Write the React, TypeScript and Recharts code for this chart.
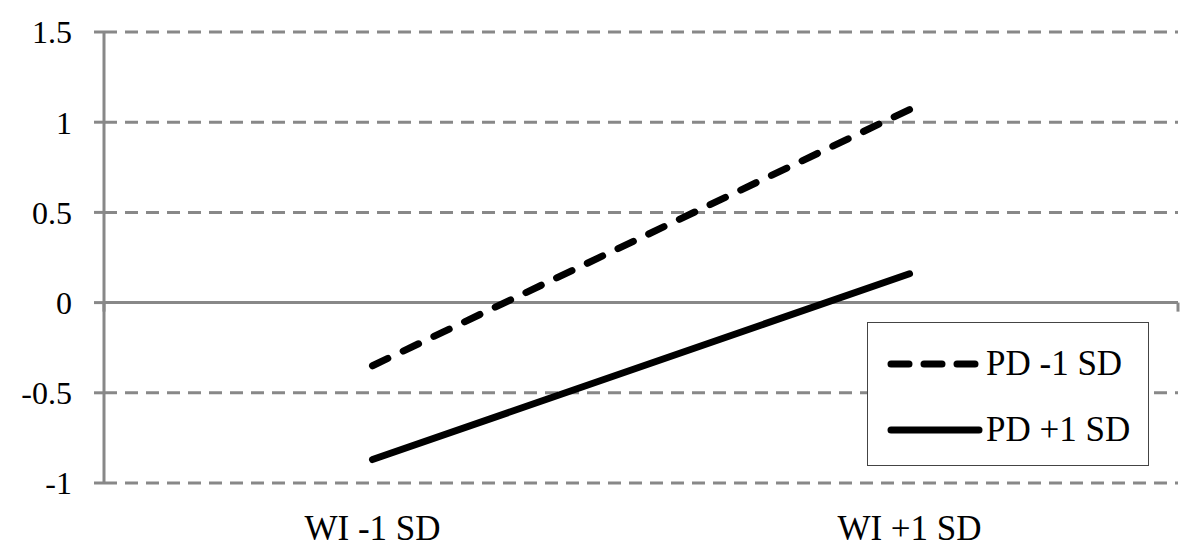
import { LineChart, Line, XAxis, YAxis, CartesianGrid, ReferenceLine } from "recharts";

const categories = ["WI -1 SD", "WI +1 SD"];
const pdMinus1 = [-0.35, 1.07];
const pdPlus1 = [-0.87, 0.16];
const yTicks = [-1, -0.5, 0, 0.5, 1, 1.5];
const categoryEdges = [0, 1, 2];

const series = [
  { key: "pdMinus1", name: "PD -1 SD", dash: "17 17" },
  { key: "pdPlus1", name: "PD +1 SD", dash: undefined },
];

const data = categories.map((name, i) => ({
  name,
  pdMinus1: pdMinus1[i],
  pdPlus1: pdPlus1[i],
}));

const font = "Liberation Serif, DejaVu Serif, serif";
const gray = "#888888";

function LegendBox() {
  return (
    <div
      style={{
        position: "absolute",
        left: 867,
        top: 322,
        width: 280,
        height: 142,
        border: "1.5px solid #444",
        background: "#fff",
        fontFamily: font,
        fontSize: 35,
        color: "#000",
      }}
    >
      {series.map((s, i) => (
        <div
          key={s.key}
          style={{
            position: "absolute",
            left: 0,
            top: i === 0 ? 18 : 84,
            height: 46,
            display: "flex",
            alignItems: "center",
          }}
        >
          <svg width={118} height={20}>
            <line
              x1={23}
              y1={10}
              x2={111}
              y2={10}
              stroke="#000"
              strokeWidth={7}
              strokeLinecap="round"
              strokeDasharray={s.dash ? "18 15" : undefined}
            />
          </svg>
          <span style={{ lineHeight: "46px" }}>{s.name}</span>
        </div>
      ))}
    </div>
  );
}

export default function App() {
  return (
    <div style={{ position: "absolute", left: 0, top: 0, width: 1200, height: 559, background: "#fff" }}>
      <LineChart width={1200} height={559} data={data} margin={{ top: 32, right: 22, bottom: 0, left: 0 }}>
        <CartesianGrid
          xAxisId="cat"
          vertical={false}
          stroke={gray}
          strokeWidth={3}
          strokeDasharray="13 8"
        />
        <XAxis
          xAxisId="cat"
          dataKey="name"
          scale="band"
          axisLine={false}
          tickLine={false}
          tickSize={0}
          tickMargin={32}
          height={76}
          tick={{ fill: "#000", fontSize: 35, fontFamily: font }}
        />
        <XAxis xAxisId="edge" type="number" domain={[0, 2]} hide />
        <YAxis
          domain={[-1, 1.5]}
          ticks={yTicks}
          width={104}
          axisLine={{ stroke: gray, strokeWidth: 3 }}
          tickLine={{ stroke: gray, strokeWidth: 3 }}
          tickSize={10}
          tickMargin={22}
          interval={0}
          tick={{ fill: "#000", fontSize: 32, fontFamily: font }}
        />
        <ReferenceLine xAxisId="cat" y={0} stroke={gray} strokeWidth={3} strokeDasharray="" />
        {categoryEdges.map((e) => (
          <ReferenceLine
            key={e}
            xAxisId="edge"
            segment={[
              { x: e, y: 0 },
              { x: e, y: -0.05 },
            ]}
            stroke={gray}
            strokeWidth={3}
          />
        ))}
        {series.map((s) => (
          <Line
            key={s.key}
            xAxisId="cat"
            dataKey={s.key}
            name={s.name}
            stroke="#000"
            strokeWidth={7}
            strokeLinecap="round"
            strokeDasharray={s.dash}
            dot={false}
            activeDot={false}
            isAnimationActive={false}
          />
        ))}
      </LineChart>
      <LegendBox />
    </div>
  );
}
